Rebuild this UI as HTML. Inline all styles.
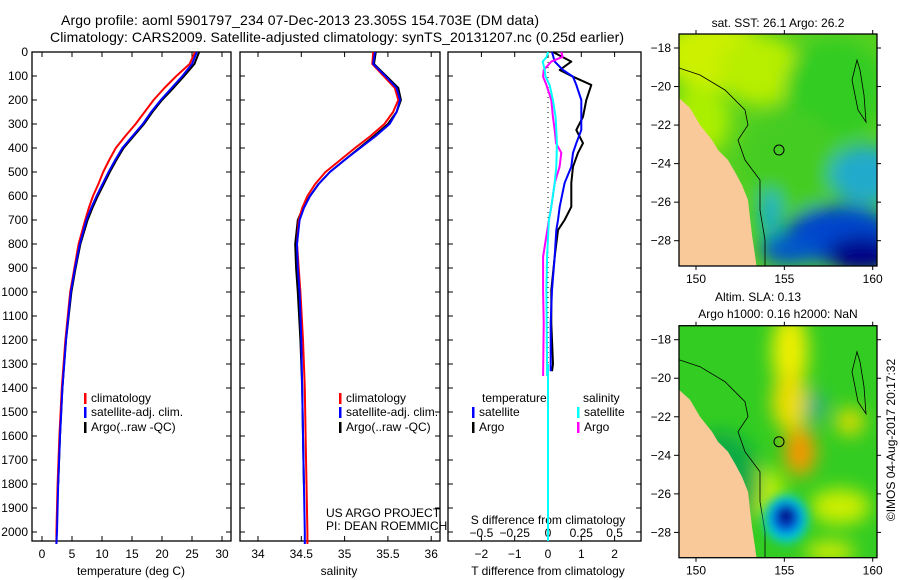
<!DOCTYPE html>
<html><head><meta charset="utf-8"><style>
html,body{margin:0;padding:0;background:#fff;}
svg{display:block;font-family:"Liberation Sans",sans-serif;}
text{fill:#000;}
</style></head><body>
<svg id="fig" width="900" height="580" viewBox="0 0 900 580" xmlns="http://www.w3.org/2000/svg">
<defs>
<filter id="bl" x="-50%" y="-50%" width="200%" height="200%"><feGaussianBlur stdDeviation="9"/></filter>
<filter id="bl2" x="-50%" y="-50%" width="200%" height="200%"><feGaussianBlur stdDeviation="5"/></filter>
<clipPath id="c1"><rect x="679" y="34" width="198" height="232"/></clipPath>
<clipPath id="c2"><rect x="679" y="326" width="198" height="231"/></clipPath>
</defs>
<text x="300" y="25" font-size="14" text-anchor="middle" textLength="478">Argo profile: aoml 5901797_234 07-Dec-2013 23.305S 154.703E (DM data)</text>
<text x="337" y="42" font-size="14" text-anchor="middle" textLength="574">Climatology: CARS2009. Satellite-adjusted climatology: synTS_20131207.nc (0.25d earlier)</text>
<g id="axes"></g>
<g id="series"></g>
<g id="maps"></g>
</svg>
<script>
// ---- data ----
const depthLevels = [0,50,100,150,200,250,300,350,400,450,500,550,600,650,700,800,900,1000,1200,1400,1600,1800,2000,2050];
const tempClim = [25.5,24.6,22.4,20.4,18.6,17.1,15.6,13.9,12.3,11.2,10.2,9.4,8.5,7.8,7.2,6.1,5.4,4.7,3.9,3.3,2.9,2.6,2.4,2.4];
const tempSat = [25.8,25.0,23.4,21.6,19.8,18.2,16.8,15.1,13.4,12.2,11.1,10.1,9.1,8.2,7.4,6.3,5.5,4.8,4.0,3.4,3.0,2.7,2.5,2.4];
const tempArgo = [26.2,25.4,23.7,21.9,20.0,18.4,17.0,15.3,13.6,12.4,11.3,10.3,9.3,8.4,7.6,6.4,5.6,4.9,4.0,3.4,3.0,2.7,2.5,2.4];
const salClim = [35.33,35.32,35.45,35.58,35.62,35.56,35.46,35.30,35.12,34.95,34.78,34.66,34.57,34.51,34.47,34.45,34.47,34.49,34.52,34.54,34.55,34.56,34.57,34.57];
const salSat = [35.35,35.33,35.47,35.60,35.64,35.60,35.52,35.36,35.18,35.00,34.83,34.70,34.60,34.53,34.48,34.45,34.46,34.48,34.50,34.51,34.52,34.53,34.54,34.54];
const salArgo = [35.36,35.34,35.48,35.62,35.65,35.60,35.50,35.34,35.17,35.00,34.83,34.70,34.60,34.52,34.46,34.43,34.44,34.46,34.49,34.51,34.52,34.53,34.54,34.54];
const diffDepthT = [0,40,75,103,137,200,270,325,380,420,478,546,645,700,742,853,992,1130,1300,1330];
const dTsat = [0.12,0.2,0.45,0.75,0.85,1.0,1.0,1.0,0.85,0.75,0.7,0.5,0.35,0.3,0.25,0.2,0.12,0.08,0.08,0.08];
const dTargo = [0.15,0.7,0.35,0.75,1.3,1.15,1.05,0.85,1.05,0.9,0.75,0.7,0.7,0.5,0.3,0.2,0.1,0.1,0.15,0.12];
const diffDepthS = [0,20,40,75,103,137,200,270,325,380,420,478,546,645,700,853,992,1130,1350];
const dSsat = [0,-0.01,-0.04,-0.025,-0.018,0.012,0.037,0.057,0.062,0.067,0.065,0.062,0.05,0.025,0.007,-0.007,-0.012,-0.01,-0.007];
const dSargo = [0.1,0.11,0.025,-0.032,-0.037,-0.012,0.025,0.037,0.05,0.06,0.1,0.087,0.05,0.025,0.007,-0.037,-0.037,-0.032,-0.037];
const depthTicks = [0,100,200,300,400,500,600,700,800,900,1000,1100,1200,1300,1400,1500,1600,1700,1800,1900,2000];
const tempTicks = [0,5,10,15,20,25,30];
const salTicks = [34,34.5,35,35.5,36];
const dTTicks = [-2,-1,0,1,2];
const dSTicks = [-0.5,-0.25,0,0.25,0.5];
const dSTickLabels = ["\u22120.5","\u22120.25","0","0.25","0.5"];
const latTicks = [-18,-20,-22,-24,-26,-28];
const lonTicks = [150,155,160];

// ---- scales ----
const TOP=52, BOT=541;
const yD = d => TOP + d*0.24;
const xT = t => 42 + t*6.0;
const xS = s => 258 + (s-34)*86.6;
const xdT = t => 548 + t*33.3;
const xdS = s => 548 + s*133.2;
const NS='http://www.w3.org/2000/svg';
function mk(tag, attrs, parent, txt){const e=document.createElementNS(NS,tag);for(const k in attrs)e.setAttribute(k,attrs[k]);if(txt!==undefined)e.textContent=txt;parent.appendChild(e);return e;}
const axes=document.getElementById('axes'), ser=document.getElementById('series'), maps=document.getElementById('maps');

const panels=[{x0:32,x1:231,name:'temperature-panel'},{x0:240,x1:440,name:'salinity-panel'},{x0:448,x1:641,name:'difference-panel'}];
panels.forEach(p=>{
  const r=mk('rect',{x:p.x0,y:TOP,width:p.x1-p.x0,height:BOT-TOP,fill:'none',stroke:'#000','stroke-width':1.3},axes);
  
  
  depthTicks.forEach(d=>{
    mk('line',{x1:p.x0,x2:p.x0+5,y1:yD(d),y2:yD(d),stroke:'#000'},axes);
    mk('line',{x1:p.x1,x2:p.x1-5,y1:yD(d),y2:yD(d),stroke:'#000'},axes);
  });
});
depthTicks.forEach(d=>{
  const t=mk('text',{x:28,y:yD(d)+4,'font-size':12,'text-anchor':'end'},axes,String(d));
  
  
});
function xticks(ticks,labels,sc,yl,top){
  ticks.forEach((v,i)=>{
    const x=sc(v);
    mk('line',{x1:x,x2:x,y1:BOT,y2:BOT-5,stroke:'#000'},axes);
    if(top) mk('line',{x1:x,x2:x,y1:TOP,y2:TOP+5,stroke:'#000'},axes);
    const t=mk('text',{x:x,y:yl,'font-size':12,'text-anchor':'middle'},axes,labels[i]);
    
    
  });
}
xticks(tempTicks,tempTicks.map(String),xT,558,true);
xticks(salTicks,salTicks.map(String),xS,558,true);
xticks(dTTicks,dTTicks.map(v=>v<0?'\u2212'+(-v):String(v)),xdT,558,true);
dSTicks.forEach((v,i)=>{
  const t=mk('text',{x:xdS(v),y:537,'font-size':12,'text-anchor':'middle'},axes,dSTickLabels[i]);
  
  
});
function lbl(x,y,s,name,anchor){const t=mk('text',{x:x,y:y,'font-size':12,'text-anchor':anchor||'middle'},axes,s);
  
  return t;}
lbl(131,575,'temperature (deg C)','temperature-axis-title');
lbl(339,575,'salinity','salinity-axis-title');
lbl(548,575,'T difference from climatology','t-diff-axis-title');
lbl(548,524,'S difference from climatology','s-diff-axis-title');
lbl(326,517,'US ARGO PROJECT','project-label','start');
lbl(326,530,'PI: DEAN ROEMMICH','pi-label','start');
const zl=mk('line',{x1:548,x2:548,y1:TOP+5,y2:yD(1330),stroke:'#000','stroke-dasharray':'1 4'},axes);



function line(xs,ys,sx,color,name,w){
  const pts=xs.map((v,i)=>sx(v).toFixed(1)+','+yD(ys[i]).toFixed(1)).join(' ');
  const l=mk('polyline',{points:pts,fill:'none',stroke:color,'stroke-width':w||2,'stroke-linejoin':'round'},ser);
  
  
}
line(tempArgo,depthLevels.slice(0,22),xT,'#000','temp-argo-line');
line(tempClim,depthLevels,xT,'#f00','temp-climatology-line');
line(tempSat,depthLevels,xT,'#00f','temp-satellite-line');
line(salArgo,depthLevels.slice(0,22),xS,'#000','sal-argo-line');
line(salClim,depthLevels,xS,'#f00','sal-climatology-line');
line(salSat,depthLevels,xS,'#00f','sal-satellite-line');
line(dTargo,diffDepthT,xdT,'#000','dT-argo-line');
line(dTsat,diffDepthT,xdT,'#00f','dT-satellite-line');
line(dSargo,diffDepthS,xdS,'#f0f','dS-argo-line');
line(dSsat,diffDepthS,xdS,'#0ff','dS-satellite-line');
const tail=mk('line',{x1:548,x2:548,y1:yD(1300),y2:BOT,stroke:'#0ff','stroke-width':2},ser);



function legend(x,y,color,text){
  mk('rect',{x:x,y:y-9,width:2.5,height:11,fill:color},axes);
  lbl(x+7,y,text,'legend-entry','start');
}
legend(84,402,'#f00','climatology');legend(84,416,'#00f','satellite-adj. clim.');legend(84,431,'#000','Argo(..raw -QC)');
legend(339,402,'#f00','climatology');legend(339,416,'#00f','satellite-adj. clim.');legend(339,431,'#000','Argo(..raw -QC)');
lbl(482,402,'temperature','legend-temperature-header','start');
legend(472,416,'#00f','satellite');legend(472,431,'#000','Argo');
lbl(583,402,'salinity','legend-salinity-header','start');
legend(577,416,'#0ff','satellite');legend(577,431,'#f0f','Argo');

// ---- maps ----
const latY=(lat,off)=>48+(-18-lat)*19.27+off;
const lonX=lon=>696+(lon-150)*17.67;
function map(off,clip,blobs,base,name){
  const g=mk('g',{'clip-path':'url(#'+clip+')'},maps);
  
  
  mk('rect',{x:679,y:34+off,width:198,height:232,fill:base},g);
  const bg=mk('g',{filter:'url(#bl)'},g);
  blobs.forEach(b=>mk('ellipse',{cx:b[0],cy:b[1]+off,rx:b[2],ry:b[3],fill:b[4]},bg));
  const coast=[[679,98],[690,108],[700,125],[712,140],[718,150],[728,160],[735,172],[742,185],[748,200],[750,218],[752,235],[755,255],[757,270],[679,270]];
  mk('polygon',{points:coast.map(p=>p[0]+','+(p[1]+off)).join(' '),fill:'#f9c99a'},g);
  const shelf=[[679,68],[700,75],[725,90],[745,110],[748,125],[738,140],[745,160],[760,180],[760,210],[765,240],[765,270]];
  mk('polyline',{points:shelf.map(p=>p[0]+','+(p[1]+off)).join(' '),fill:'none',stroke:'#000','stroke-width':0.8},g);
  mk('path',{d:`M857 ${60+off} L852 ${80+off} L858 ${110+off} L866 ${122+off} L864 ${95+off} L860 ${70+off} Z`,fill:'none',stroke:'#000','stroke-width':0.8},g);
  mk('circle',{cx:779,cy:150+off,r:5,fill:'none',stroke:'#000','stroke-width':1},g);
  mk('rect',{x:679,y:34+off,width:198,height:232,fill:'none',stroke:'#000','stroke-width':1.3},maps);
  latTicks.forEach(l=>{const y=latY(l,off);
    mk('line',{x1:679,x2:674,y1:y,y2:y,stroke:'#000'},maps);mk('line',{x1:877,x2:881,y1:y,y2:y,stroke:'#000'},maps);
    const t=mk('text',{x:671,y:y+4,'font-size':12,'text-anchor':'end'},maps,String(l).replace('-','\u2212'));
    
    });
  lonTicks.forEach(l=>{const x=lonX(l);
    mk('line',{x1:x,x2:x,y1:34+off,y2:30+off,stroke:'#000'},maps);mk('line',{x1:x,x2:x,y1:266+off,y2:270+off,stroke:'#000'},maps);
    const t=mk('text',{x:x,y:283+off,'font-size':12,'text-anchor':'middle'},maps,String(l));
    
    });
}
map(0,'c1',[[715,55,55,35,'#ccf000'],[760,70,40,35,'#b8ee00'],[700,120,30,35,'#aaee00'],[835,90,50,50,'#33cc22'],[790,160,50,50,'#44cc22'],[865,175,35,30,'#22aacc'],[840,235,55,30,'#0044cc'],[862,255,35,18,'#000088'],[790,250,30,15,'#0055cc'],[770,215,10,25,'#11aadd']],'#55d020','sst-map');
map(291.7,'c2',[[790,60,18,40,'#eeee00'],[790,110,18,30,'#eedd00'],[800,160,16,25,'#f0a000'],[800,160,8,10,'#ff8800'],[850,130,14,14,'#dddd00'],[815,115,10,16,'#22aa88'],[760,200,25,25,'#bbee00'],[840,215,30,18,'#ccee00'],[830,260,25,10,'#ddee00'],[720,190,40,50,'#11aa44']],'#33cc22','sla-map');
const eg=mk('g',{filter:'url(#bl2)'},maps);
mk('ellipse',{cx:786,cy:519,rx:22,ry:24,fill:'#00ccdd'},eg);
mk('ellipse',{cx:786,cy:518,rx:15,ry:16,fill:'#0055dd'},eg);
mk('ellipse',{cx:786,cy:516,rx:8,ry:9,fill:'#000080'},eg);
lbl(778,27,'sat. SST: 26.1  Argo: 26.2','sst-map-title');
lbl(758,301,'Altim. SLA: 0.13','sla-map-title');
lbl(778,318,'Argo h1000: 0.16 h2000: NaN','argo-height-title');
const ts=mk('text',{x:0,y:0,'font-size':12,'text-anchor':'middle',transform:'translate(895,440) rotate(-90)'},maps,'\u00a9IMOS 04-Aug-2017 20:17:32');


</script>
</body></html>
